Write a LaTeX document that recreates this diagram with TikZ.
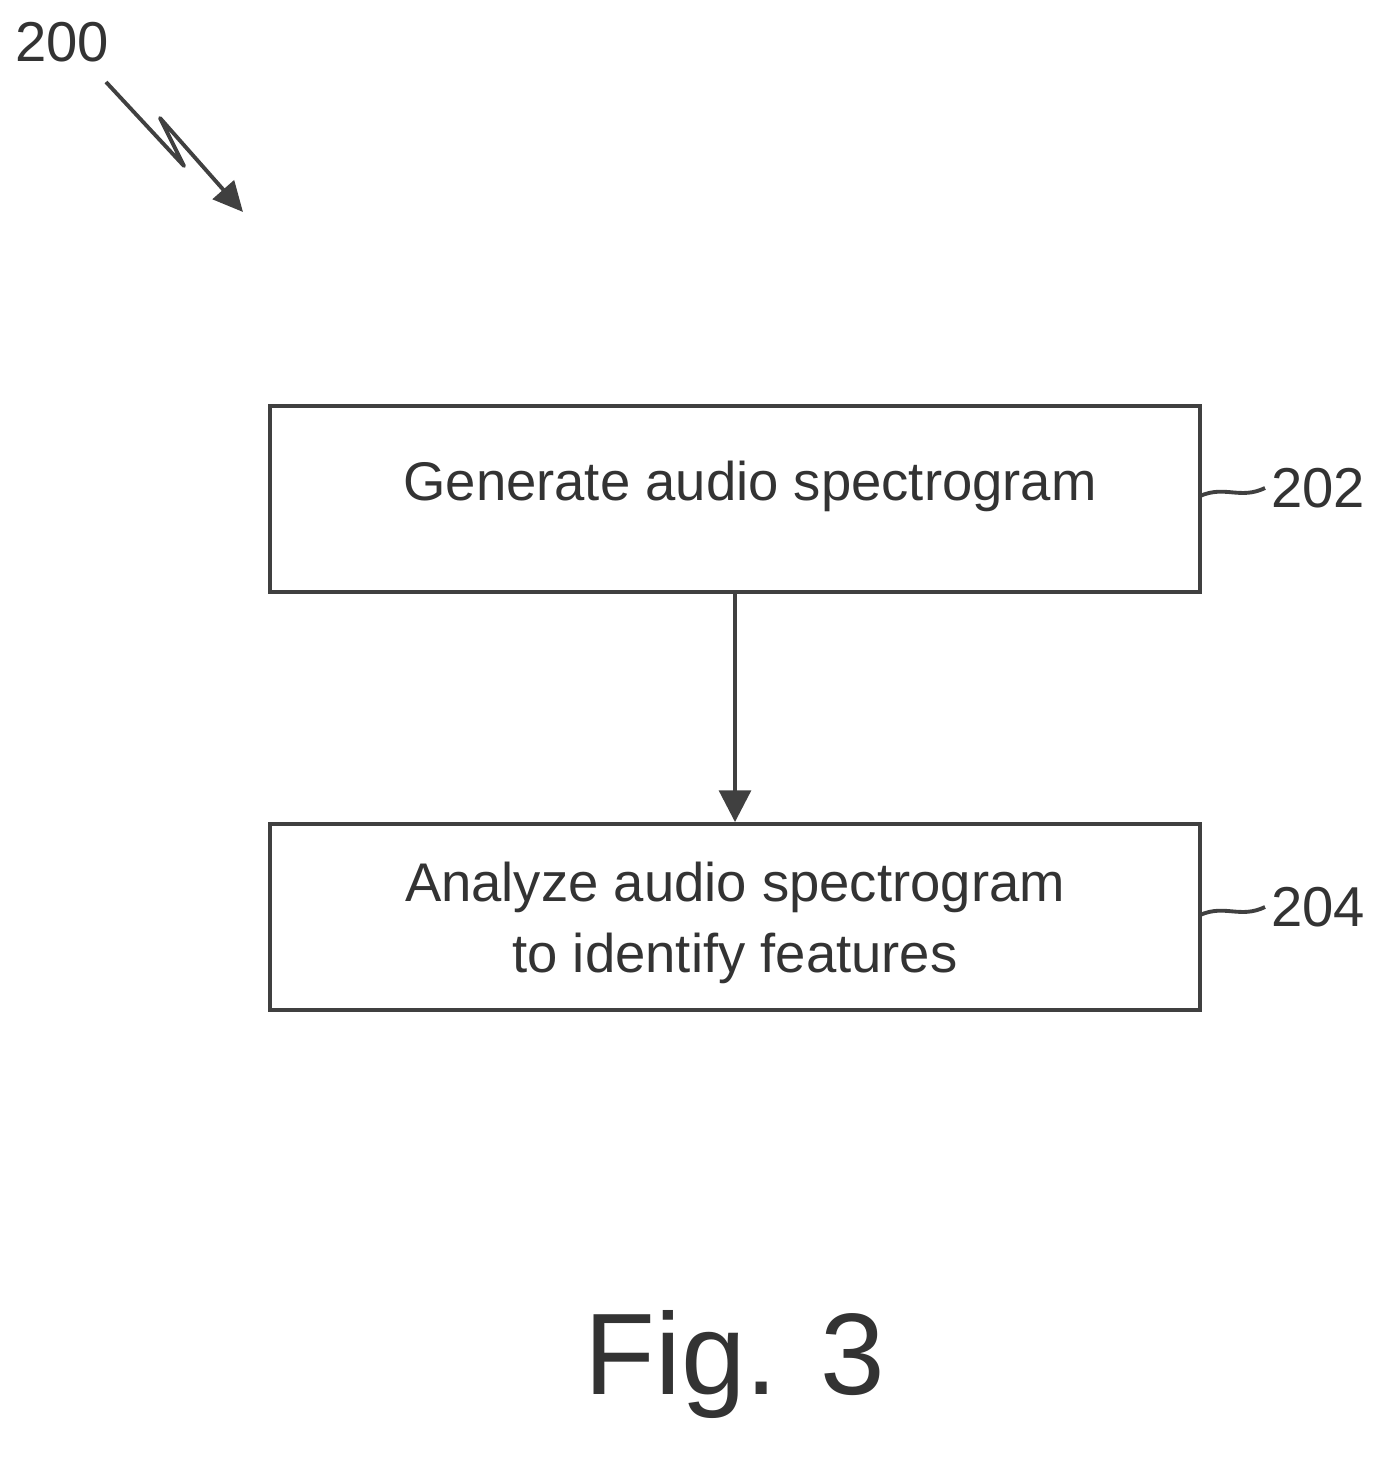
\documentclass[tikz,border=0pt]{standalone}
\usepackage{fontspec}
\setmainfont{Liberation Sans}
\usetikzlibrary{arrows.meta,decorations.pathmorphing}
\begin{document}
\begin{tikzpicture}[x=0.02cm,y=-0.02cm,
  ln/.style={draw=black!75,line width=2.2pt},
  box/.style={ln,minimum width=930*0.02cm,minimum height=186*0.02cm,inner sep=0pt},
  txt/.style={font=\fontsize{31}{40}\selectfont,text=black!80,align=center},
  num/.style={font=\fontsize{32}{38}\selectfont,text=black!80}]
\useasboundingbox (0,0) rectangle (1378,1457);
\node[box] (b1) at (735,499) {};
\node[txt] (t1) at (750,486) {Generate audio spectrogram};
\node[box] (b2) at (735,917) {};
\node[txt] (t2) at (735,923) {Analyze audio spectrogram\\to identify features};
\draw[ln,-{Triangle[length=18pt,width=18pt]}] (b1.south) -- (b2.north);
\node[num,anchor=west] (n202) at (1265,488) {202};
\node[num,anchor=west] (n204) at (1265,907) {204};
\draw[ln] (1200,496) .. controls (1225,485) and (1240,500) .. (n202.west);
\draw[ln] (1200,915) .. controls (1225,904) and (1240,919) .. (n204.west);
\node[num] (n200) at (62,42) {200};
\coordinate (z0) at (106,82);
\coordinate (z1) at (184,166);
\coordinate (z2) at (160,118);
\coordinate (z3) at (243,212);
\draw[ln,line join=round,-{Triangle[length=17pt,width=16pt]}] (z0) -- (z1) -- (z2) -- (z3);
\node[font=\fontsize{66}{76}\selectfont,text=black!80] (fig) at (735,1365) {Fig. 3};
\end{tikzpicture}
\end{document}
